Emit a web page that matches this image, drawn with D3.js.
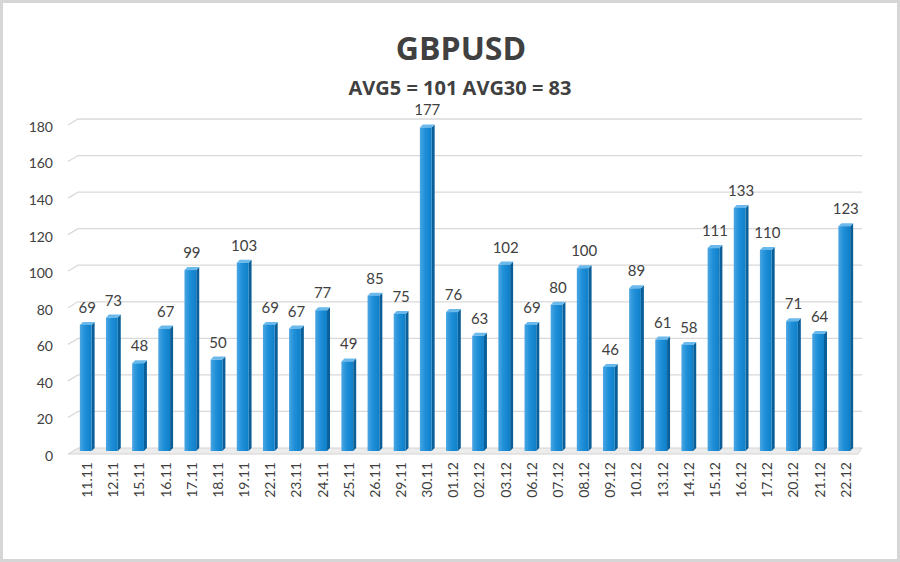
<!DOCTYPE html>
<html>
<head>
<meta charset="utf-8">
<script src="https://cdnjs.cloudflare.com/ajax/libs/d3/7.8.5/d3.min.js"></script>
<style>
  html, body { margin: 0; padding: 0; background: #fff; }
  #chart { width: 900px; height: 562px; }
</style>
</head>
<body>
<div id="chart"></div>
<script>
// Chart data
const dates = ["11.11", "12.11", "15.11", "16.11", "17.11", "18.11", "19.11", "22.11", "23.11", "24.11",
  "25.11", "26.11", "29.11", "30.11", "01.12", "02.12", "03.12", "06.12", "07.12", "08.12",
  "09.12", "10.12", "13.12", "14.12", "15.12", "16.12", "17.12", "20.12", "21.12", "22.12"];
const ranges = [69, 73, 48, 67, 99, 50, 103, 69, 67, 77,
  49, 85, 75, 177, 76, 63, 102, 69, 80, 100,
  46, 89, 61, 58, 111, 133, 110, 71, 64, 123];
const yTicks = [0, 20, 40, 60, 80, 100, 120, 140, 160, 180];
const title = "GBPUSD";
const subtitle = "AVG5 = 101 AVG30 = 83";

const W = 900, H = 562;
const depth = 3;      // 3d offset of bars
const wallDepth = 6;  // offset of the back wall

const svg = d3.select("#chart").append("svg")
    .attr("width", W)
    .attr("height", H)
    .style("font-family", "Lato, 'Open Sans', sans-serif");

// gradients for the bars
const defs = svg.append("defs");
const gFront = defs.append("linearGradient").attr("id", "front").attr("x1", 0).attr("x2", 1);
gFront.append("stop").attr("offset", "0%").attr("stop-color", "#4aa6e3");
gFront.append("stop").attr("offset", "45%").attr("stop-color", "#1e8fd8");
gFront.append("stop").attr("offset", "100%").attr("stop-color", "#0f7fc8");

// outer frame
svg.append("rect")
    .attr("x", 1.5).attr("y", 1.5)
    .attr("width", W - 3).attr("height", H - 3)
    .attr("fill", "#fff")
    .attr("stroke", "#d6d6d6")
    .attr("stroke-width", 3);

// Scales
const x = d3.scaleBand()
    .domain(dates)
    .range([72, 858])
    .paddingInner(0.55)
    .paddingOuter(0.3);

const y = d3.scaleLinear()
    .domain([0, 180])
    .range([451, 122]);

const xLeft = 68;
const xRight = 862;

// floor
svg.append("path")
    .attr("d", `M${xLeft},${y(0) + wallDepth / 2} L${xLeft + 10},${y(0) - wallDepth / 2} L${xRight},${y(0) - wallDepth / 2} L${xRight - 4},${y(0) + wallDepth / 2} Z`)
    .attr("fill", "#ececec")
    .attr("stroke", "#d4d4d4")
    .attr("stroke-width", 1);

// gridlines on the back wall, with the short diagonal at the side
const grid = svg.append("g").attr("class", "grid");
yTicks.filter(d => d > 0).forEach(t => {
    const yb = y(t) - wallDepth / 2;
    const yf = y(t) + wallDepth / 2;
    grid.append("path")
        .attr("d", `M${xLeft},${yf} L${xLeft + 10},${yb} L${xRight},${yb}`)
        .attr("fill", "none")
        .attr("stroke", "#d9d9d9")
        .attr("stroke-width", 1.3);
});

// y axis labels
svg.append("g")
    .selectAll("text")
    .data(yTicks)
    .enter()
    .append("text")
    .attr("x", 53)
    .attr("y", d => y(d) + 5)
    .attr("dy", "0.35em")
    .attr("text-anchor", "end")
    .attr("fill", "#404040")
    .style("font-size", "14px")
    .text(d => d);

// Bars
const bars = svg.append("g").attr("class", "bars")
    .selectAll("g")
    .data(dates.map((d, i) => ({ date: d, value: ranges[i] })))
    .enter()
    .append("g");

const bw = x.bandwidth();

// side face
bars.append("path")
    .attr("d", d => {
        const x0 = x(d.date) + bw, yt = y(d.value), yb = y(0);
        return `M${x0},${yt} L${x0 + depth},${yt - depth} L${x0 + depth},${yb - depth} L${x0},${yb} Z`;
    })
    .attr("fill", "#0b5f98");

// top face
bars.append("path")
    .attr("d", d => {
        const x0 = x(d.date), yt = y(d.value);
        return `M${x0},${yt} L${x0 + depth},${yt - depth} L${x0 + bw + depth},${yt - depth} L${x0 + bw},${yt} Z`;
    })
    .attr("fill", "#6ab9ec");

// front face
bars.append("rect")
    .attr("x", d => x(d.date))
    .attr("y", d => y(d.value))
    .attr("width", bw)
    .attr("height", d => y(0) - y(d.value))
    .attr("fill", "url(#front)");

// value labels
bars.append("text")
    .attr("x", d => x(d.date) + bw / 2 + depth / 2)
    .attr("y", d => y(d.value) - 12)
    .attr("text-anchor", "middle")
    .attr("fill", "#404040")
    .style("font-size", "15px")
    .text(d => d.value);

// x axis labels (rotated)
svg.append("g")
    .selectAll("text")
    .data(dates)
    .enter()
    .append("text")
    .attr("transform", d => `translate(${x(d) + bw / 2 + depth / 2},462) rotate(-90)`)
    .attr("dy", "0.35em")
    .attr("text-anchor", "end")
    .attr("fill", "#404040")
    .style("font-size", "14px")
    .text(d => d);

// Titles
svg.append("text")
    .attr("x", 461)
    .attr("y", 60)
    .attr("text-anchor", "middle")
    .attr("fill", "#404040")
    .style("font-family", "'Open Sans', sans-serif")
    .style("font-size", "32px")
    .style("font-weight", "bold")
    .text(title);

svg.append("text")
    .attr("x", 460)
    .attr("y", 95)
    .attr("text-anchor", "middle")
    .attr("fill", "#404040")
    .style("font-family", "'Open Sans', sans-serif")
    .style("font-size", "20px")
    .style("font-weight", "bold")
    .text(subtitle);
</script>
</body>
</html>
